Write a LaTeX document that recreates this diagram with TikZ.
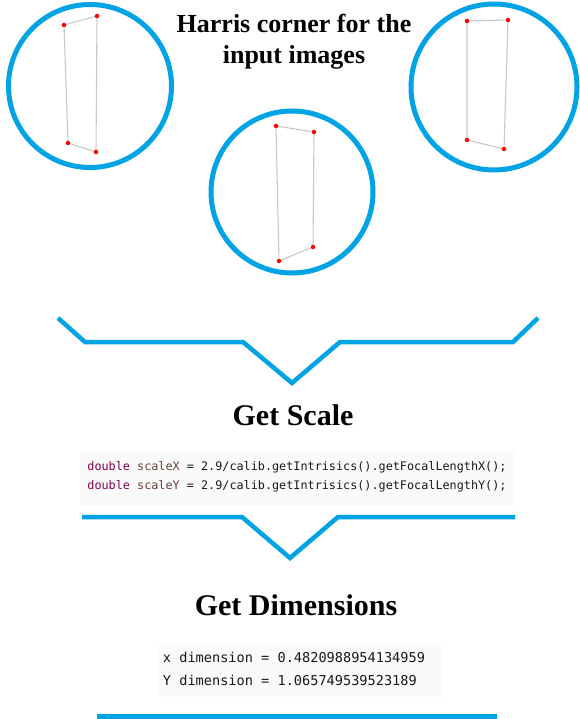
\documentclass[tikz,border=0pt]{standalone}
\usepackage{fontspec}
\setmainfont{Liberation Serif}
\newfontfamily\codefont{DejaVu Sans Mono}
\definecolor{cblue}{RGB}{0,163,228}
\definecolor{kw}{RGB}{127,0,85}
\definecolor{lv}{RGB}{106,62,62}
\definecolor{edge}{RGB}{200,200,200}
\definecolor{cbg}{RGB}{250,250,250}
\begin{document}
\begin{tikzpicture}[x=1pt,y=-1pt,
  ring/.style={draw=cblue,line width=5pt},
  bracket/.style={draw=cblue,line width=4.5pt},
  quad/.style={draw=edge,line width=1.1pt},
  corner/.style={circle,fill=red,inner sep=0pt,minimum size=4.5pt},
  head/.style={font=\bfseries\fontsize{30}{34}\selectfont,inner sep=0pt},
  code/.style={font=\codefont\fontsize{11.8}{19}\selectfont,align=left,inner sep=0pt,text=black!90},
]
\useasboundingbox (0,0) rectangle (579,719);
% circles
\node[ring,circle,minimum size=163pt,inner sep=0pt] (c1) at (90,86) {};
\node[ring,circle,minimum size=166pt,inner sep=0pt] (c3) at (494,87) {};
\node[ring,circle,minimum size=162pt,inner sep=0pt] (c2) at (292,192) {};
% quads
\coordinate (a1) at (64,25); \coordinate (a2) at (97,16);
\coordinate (a3) at (96,152); \coordinate (a4) at (68,143);
\draw[quad] (a1) -- (a2) -- (a3) -- (a4) -- cycle;
\foreach \p in {a1,a2,a3,a4} \node[corner] at (\p) {};
\coordinate (b1) at (276,126); \coordinate (b2) at (314,132);
\coordinate (b3) at (313,247); \coordinate (b4) at (279,261);
\draw[quad] (b1) -- (b2) -- (b3) -- (b4) -- cycle;
\foreach \p in {b1,b2,b3,b4} \node[corner] at (\p) {};
\coordinate (d1) at (467,21); \coordinate (d2) at (508,20);
\coordinate (d3) at (504,149); \coordinate (d4) at (467,140);
\draw[quad] (d1) -- (d2) -- (d3) -- (d4) -- cycle;
\foreach \p in {d1,d2,d3,d4} \node[corner] at (\p) {};
% title
\node[font=\bfseries\fontsize{26}{31}\selectfont,align=center,inner sep=0pt] (title) at (294,42) {Harris corner for the\\input images};
% bracket 1
\coordinate (p1) at (58,318); \coordinate (p2) at (85,342); \coordinate (p3) at (243,342);
\coordinate (p4) at (292,383); \coordinate (p5) at (340,342); \coordinate (p6) at (513,342);
\coordinate (p7) at (538,318);
\draw[bracket] (p1) -- (p2) -- (p3) -- (p4) -- (p5) -- (p6) -- (p7);
% get scale
\node[head] (gs) at (293,415) {Get Scale};
\fill[cbg] (80,451) rectangle (515,506);
\node[code] (code1) at (297,477) {\textcolor{kw}{double} \textcolor{lv}{scaleX} = 2.9/calib.getIntrisics().getFocalLengthX();\\\textcolor{kw}{double} \textcolor{lv}{scaleY} = 2.9/calib.getIntrisics().getFocalLengthY();};
% bracket 2
\coordinate (q1) at (82,517); \coordinate (q2) at (242,517); \coordinate (q3) at (290,558);
\coordinate (q4) at (338,517); \coordinate (q5) at (515,517);
\draw[bracket] (q1) -- (q2) -- (q3) -- (q4) -- (q5);
% get dimensions
\node[head] (gd) at (296,605) {Get Dimensions};
\fill[cbg] (158,645) rectangle (443,697);
\node[code,font=\codefont\fontsize{13.6}{23}\selectfont] (code2) at (294,669) {x dimension = 0.4820988954134959\\Y dimension = 1.065749539523189};
% bottom line
\coordinate (r1) at (97,716.5); \coordinate (r2) at (497,716.5);
\draw[bracket] (r1) -- (r2);
\end{tikzpicture}
\end{document}
